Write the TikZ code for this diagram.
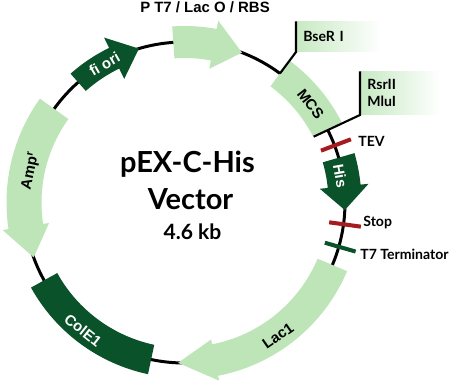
\documentclass[tikz,border=0pt]{standalone}
\usepackage{fontspec}
\setmainfont{Liberation Sans}
\newfontfamily\tagfont{Lato}
\usepackage{tikz}
\definecolor{bandgreen}{RGB}{189,229,184}
\definecolor{darkgreen}{RGB}{10,82,42}
\definecolor{cutred}{RGB}{165,28,32}
\newcommand{\plasR}{160.5}
% arc arrow: tail angle, head angle, tip angle, half width, head half width, colour
\newcommand{\arcarrow}[6]{%
  \fill[#6] (#1:{\plasR+#4}) arc[start angle=#1, end angle=#2, radius={\plasR+#4}]
    -- (#2:{\plasR+#5}) -- (#3:\plasR) -- (#2:{\plasR-#5})
    -- (#2:{\plasR-#4}) arc[start angle=#2, end angle=#1, radius={\plasR-#4}] -- cycle;}
% arc band: from angle, to angle, half width, colour
\newcommand{\arcband}[4]{%
  \fill[#4] (#1:{\plasR+#3}) arc[start angle=#1, end angle=#2, radius={\plasR+#3}]
    -- (#2:{\plasR-#3}) arc[start angle=#2, end angle=#1, radius={\plasR-#3}] -- cycle;}

\begin{document}
\begin{tikzpicture}[x=0.02cm, y=0.02cm,
    feat/.style={font=\bfseries\fontsize{8.5}{10}\selectfont, inner sep=0pt},
    tag/.style={font=\tagfont\bfseries\fontsize{8}{9.6}\selectfont, inner sep=0pt, anchor=base west},
    tagbox/.style={font=\tagfont\bfseries\fontsize{8}{9.6}\selectfont, anchor=south west, align=left,
      inner xsep=4pt, inner ysep=0pt, left color=bandgreen!85, right color=white},
    cut/.style={line width=2.3pt}]
  \useasboundingbox (-184.5,-182.5) rectangle (265.5,202.5);
  \draw[line width=1.7pt] (0,0) circle[radius=\plasR];
  \arcarrow{94}{79.5}{69}{16}{24.5}{bandgreen}
  \arcarrow{131.5}{116}{106.5}{11.5}{23}{darkgreen}
  \arcarrow{144.3}{188.6}{200}{17.5}{23.5}{bandgreen}
  \arcarrow{16.2}{5.8}{-2.7}{16.5}{24.5}{darkgreen}
  \arcarrow{337.1}{281}{267.7}{16}{21}{bandgreen}
  \arcband{53.5}{27}{16}{bandgreen}
  \arcband{209}{258}{15}{darkgreen}

  \node[feat, text=white, rotate=30] (fiori) at (120:160) {fi ori};
  \node[feat, rotate=78] (amp) at (168.4:157) {Amp\textsuperscript{r}};
  \node[feat, text=white, rotate=-38.5] (colE) at (231.5:163) {ColE1};
  \node[feat, rotate=35] (lac) at (-55:163) {Lac1};
  \node[feat, text=white, rotate=-80] (his) at (9.7:158) {His};
  \node[feat, rotate=-52] (mcs) at (38:160) {MCS};
  \node[feat, anchor=base] (ptlabel) at (20.5,189.5) {P T7 / Lac O / RBS};

  \node[tagbox, text width=1.42cm, minimum height=0.6cm] (bser) at (111.5,150.5) {BseR I};
  \node[tagbox, text width=1.32cm, minimum height=0.86cm] (rsr) at (175.5,87.5) {RsrII\\MluI};
  \draw[line width=1.2pt] (53.5:\plasR) -- (bser.south west) -- (bser.north west);
  \draw[line width=1.2pt] (27:145) -- (rsr.south west) -- (rsr.north west);

  \draw[cut, cutred] (20.8:146) -- (20.8:178);
  \draw[cut, cutred] (-7.8:146) -- (-7.8:178);
  \draw[cut, darkgreen] (-16:146) -- (-16:178);
  \node[tag] (tev) at (173.5,55.5) {TEV};
  \node[tag] (stop) at (178.5,-24.5) {Stop};
  \node[tag] (tterm) at (175.5,-57.5) {T7 Terminator};

  \node[font=\tagfont\bfseries\fontsize{16.5}{20}\selectfont, anchor=base] (title) at (3,29.5) {pEX-C-His};
  \node[font=\tagfont\bfseries\fontsize{16.5}{20}\selectfont, anchor=base] (vec) at (6,-7.5) {Vector};
  \node[font=\tagfont\bfseries\fontsize{12}{14}\selectfont, anchor=base] (size) at (8,-37.5) {4.6 kb};
\end{tikzpicture}
\end{document}
